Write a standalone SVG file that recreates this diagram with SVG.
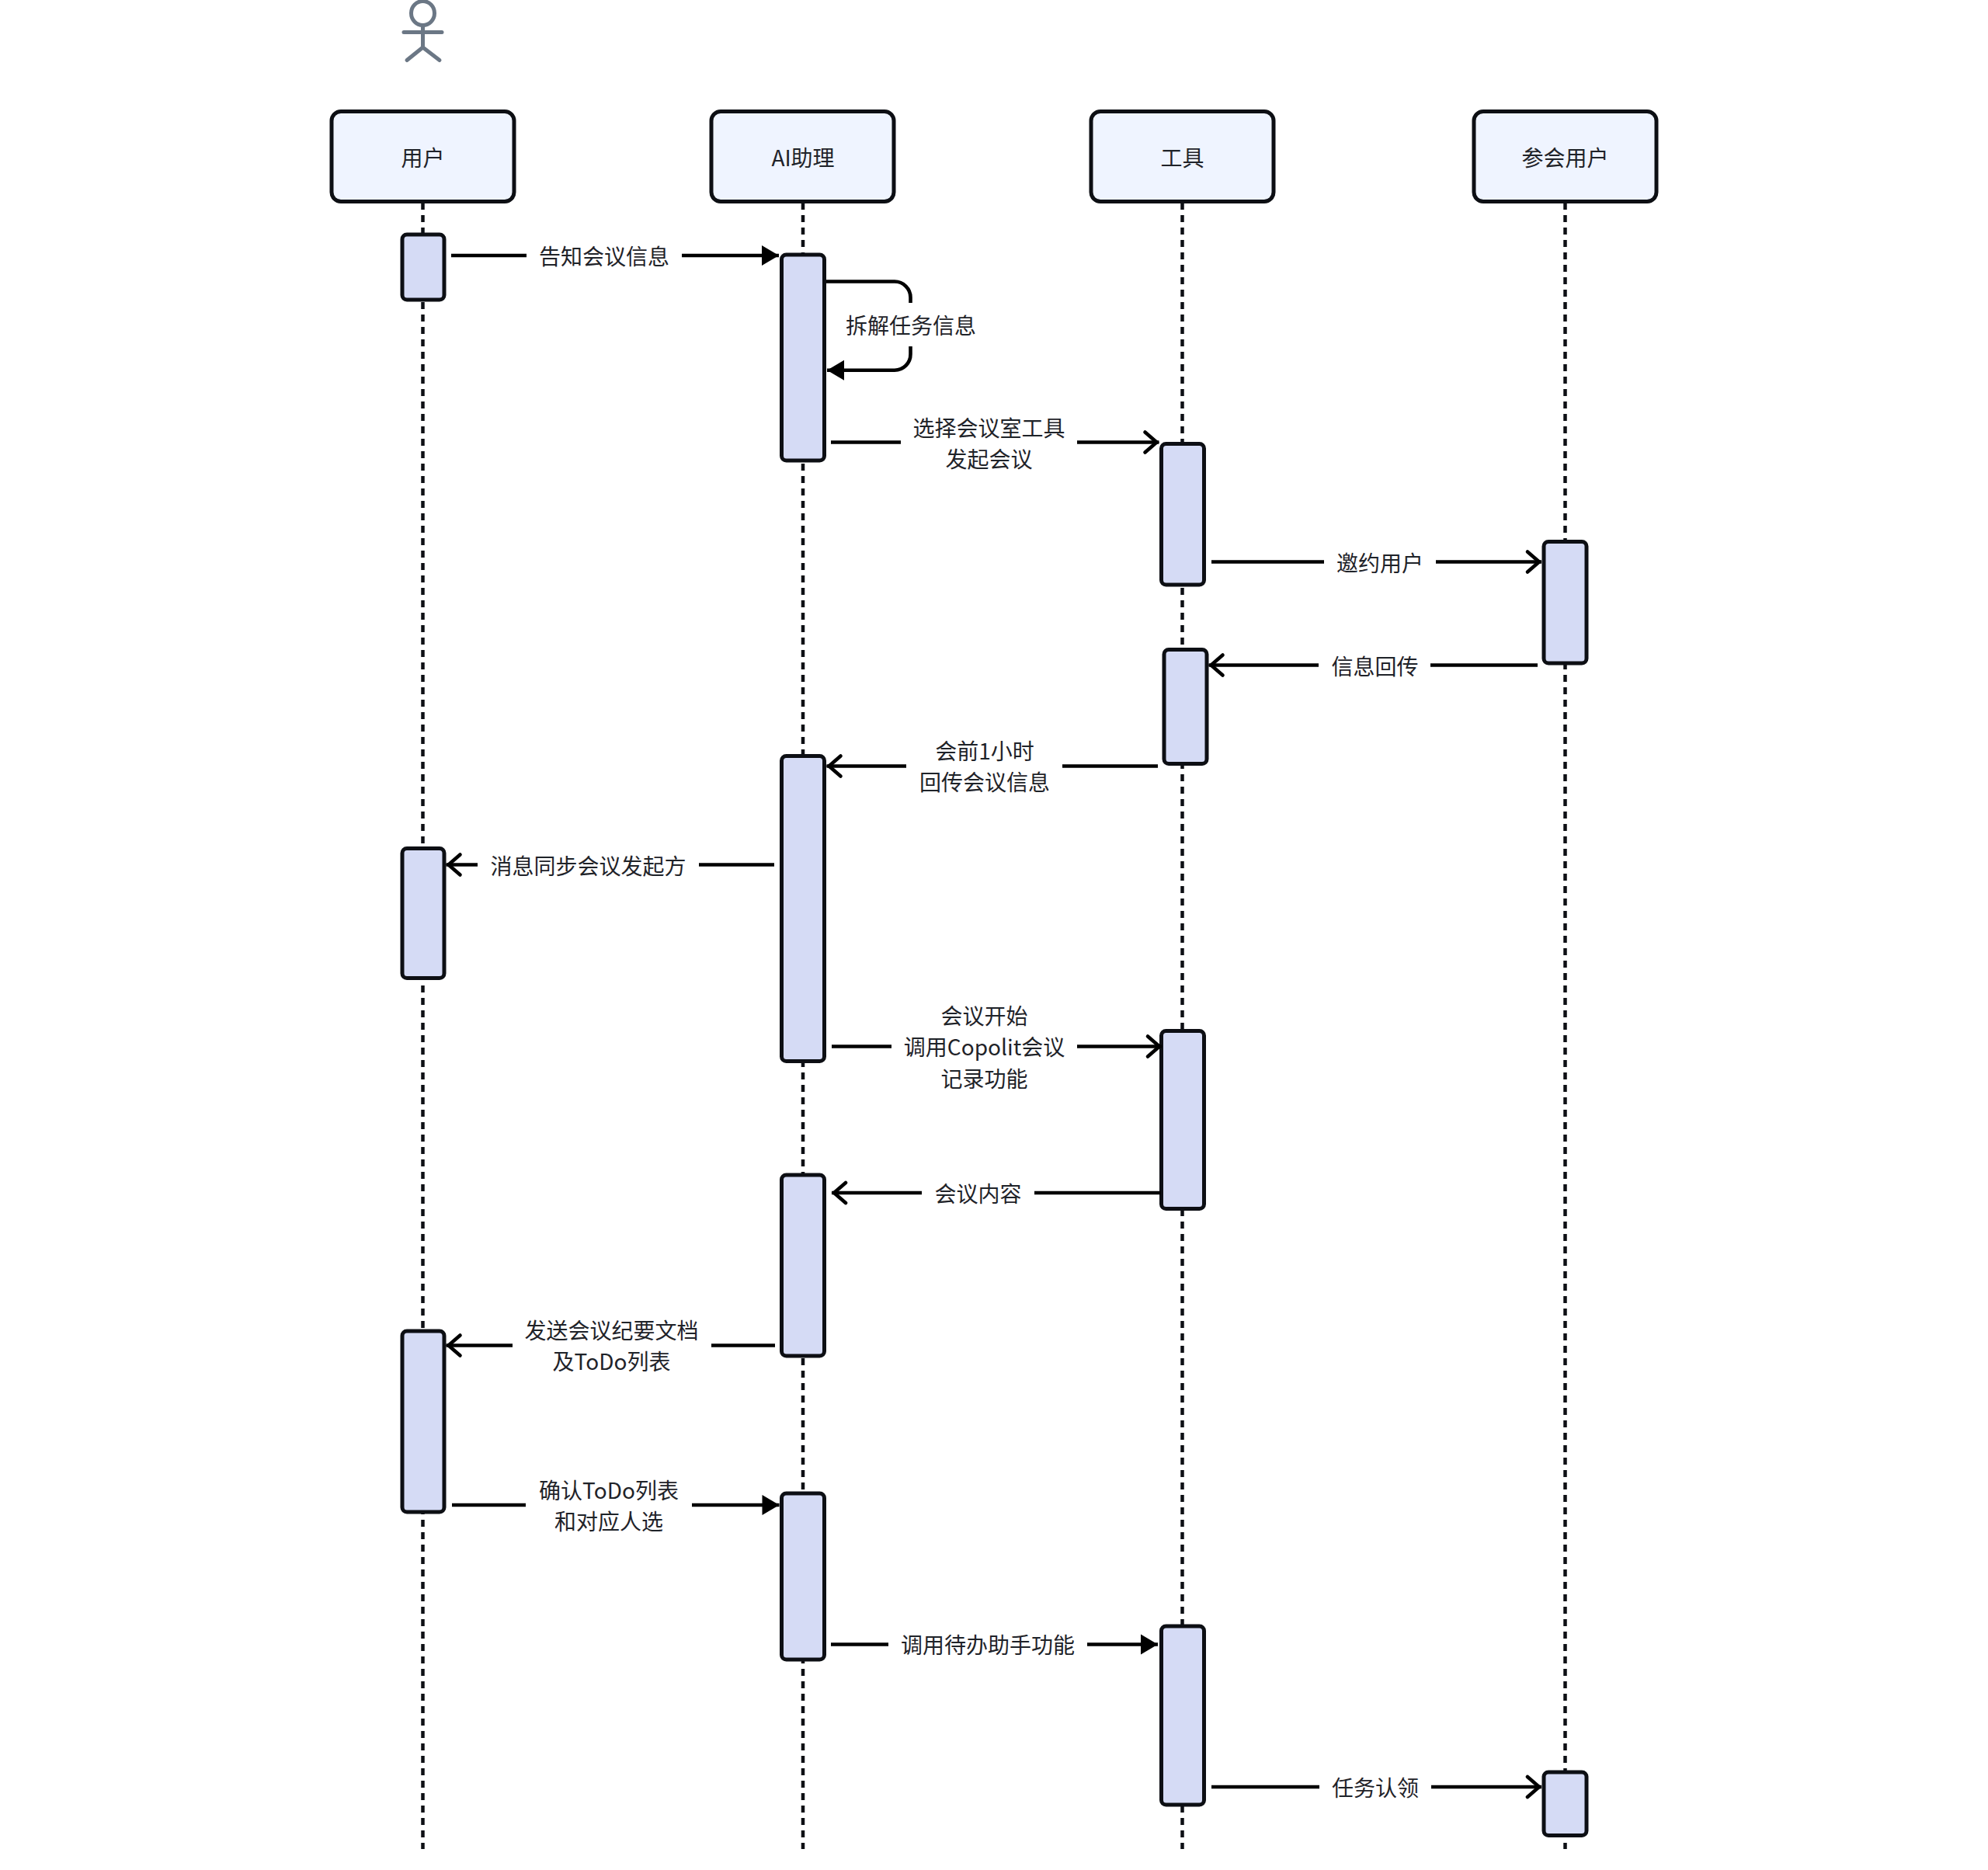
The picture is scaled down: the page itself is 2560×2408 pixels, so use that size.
<svg xmlns="http://www.w3.org/2000/svg" width="2560" height="2408" viewBox="0 0 2560 2408">
<style>
.hd{fill:#eff4ff;stroke:#0d0f14;stroke-width:5}
.ac{fill:#d5dbf5;stroke:#0d0f14;stroke-width:5}
.ll{fill:none;stroke:#0d0f14;stroke-width:4.5;stroke-dasharray:9 7}
.ln{fill:none;stroke:#000;stroke-width:4.6}
.opn{marker-end:url(#open)}
.sld{marker-end:url(#solid)}
text{font-family:"Noto Sans CJK SC","Noto Sans",sans-serif;font-size:28px;fill:#1f2329;text-anchor:middle}
.actor{fill:none;stroke:#6b7785;stroke-width:5;stroke-linecap:round;stroke-linejoin:round}
</style>
<defs>
<marker id="open" markerUnits="userSpaceOnUse" markerWidth="30" markerHeight="34" refX="23" refY="17" orient="auto" overflow="visible"><path d="M5,4 L20,17 L5,30" fill="none" stroke="#000" stroke-width="4.6" stroke-linecap="round"/></marker>
<marker id="solid" markerUnits="userSpaceOnUse" markerWidth="26" markerHeight="30" refX="24" refY="14" orient="auto" overflow="visible"><path d="M2,1 L24,14 L2,27 Z" fill="#000"/></marker>
</defs>
<rect width="2560" height="2408" fill="#fff"/>
<g id="actor" class="actor"><ellipse cx="544.5" cy="17" rx="15" ry="15.5"/><path d="M544.5,33 V61 M520,41.5 H569 M524,77.5 L544.5,61 L566,77.5"/></g>
<g id="lifelines">
<path class="ll" d="M544.5,261 V2381"/><path class="ll" d="M1034,261 V2381"/><path class="ll" d="M1522.5,261 V2381"/><path class="ll" d="M2015.5,261 V2381"/>
</g>
<g id="node-user"><rect class="hd" x="427" y="143.5" width="235" height="116" rx="12"/><text x="544.5" y="214">用户</text></g>
<g id="node-ai"><rect class="hd" x="916" y="143.5" width="235" height="116" rx="12"/><text x="1034" y="214">AI助理</text></g>
<g id="node-tool"><rect class="hd" x="1405" y="143.5" width="235" height="116" rx="12"/><text x="1522.5" y="214">工具</text></g>
<g id="node-attendee"><rect class="hd" x="1898" y="143.5" width="235" height="116" rx="12"/><text x="2015.5" y="214">参会用户</text></g>
<g id="activations">
<rect id="act-u1" class="ac" x="518" y="302" width="54" height="84" rx="6"/>
<rect id="act-a1" class="ac" x="1006.5" y="328" width="55" height="265" rx="6"/>
<rect id="act-t1" class="ac" x="1495.5" y="571.5" width="55" height="181.5" rx="6"/>
<rect id="act-p1" class="ac" x="1988" y="697.5" width="55" height="156.5" rx="6"/>
<rect id="act-t2" class="ac" x="1499" y="836.5" width="55" height="147" rx="6"/>
<rect id="act-a2" class="ac" x="1006.5" y="973.5" width="55" height="393" rx="6"/>
<rect id="act-u2" class="ac" x="518" y="1092.5" width="54" height="167" rx="6"/>
<rect id="act-t3" class="ac" x="1495.5" y="1327.5" width="55" height="229" rx="6"/>
<rect id="act-a3" class="ac" x="1006.5" y="1513" width="55" height="233" rx="6"/>
<rect id="act-u3" class="ac" x="518" y="1714" width="54" height="233" rx="6"/>
<rect id="act-a4" class="ac" x="1006.5" y="1923" width="55" height="214" rx="6"/>
<rect id="act-t4" class="ac" x="1495.5" y="2094" width="55" height="230" rx="6"/>
<rect id="act-p2" class="ac" x="1988" y="2282" width="55" height="81.5" rx="6"/>
</g>
<g id="connectors">
<path class="ln" d="M581,329 H678"/><path class="ln sld" d="M878,329 H1003"/>
<path class="ln" d="M1064,362.5 H1152 A20.5,20.5 0 0 1 1172.5,383 V390"/><path class="ln sld" d="M1172.5,446 V456 A20.5,20.5 0 0 1 1152,476.7 H1065"/>
<path class="ln" d="M1070,569.5 H1160"/><path class="ln opn" d="M1387,569.5 H1492.5"/>
<path class="ln" d="M1560,723.5 H1705"/><path class="ln opn" d="M1849,723.5 H1985"/>
<path class="ln" d="M1980,856.5 H1842"/><path class="ln opn" d="M1698,856.5 H1556.5"/>
<path class="ln" d="M1491,986.5 H1368"/><path class="ln opn" d="M1167,986.5 H1064.5"/>
<path class="ln" d="M997,1113.5 H900"/><path class="ln opn" d="M615,1113.5 H574.5"/>
<path class="ln" d="M1071,1347.5 H1148"/><path class="ln opn" d="M1387,1347.5 H1496"/>
<path class="ln" d="M1495,1536 H1332"/><path class="ln opn" d="M1187,1536 H1071"/>
<path class="ln" d="M998,1732.5 H916"/><path class="ln opn" d="M660,1732.5 H574.5"/>
<path class="ln" d="M582,1938 H677"/><path class="ln sld" d="M891,1938 H1003.5"/>
<path class="ln" d="M1070,2117.5 H1144"/><path class="ln sld" d="M1400,2117.5 H1491"/>
<path class="ln" d="M1560,2301 H1699"/><path class="ln opn" d="M1843,2301 H1985"/>
</g>
<g id="labels">
<text x="778" y="341">告知会议信息</text>
<text x="1173" y="430">拆解任务信息</text>
<text x="1273.5" y="562">选择会议室工具</text><text x="1273.5" y="602">发起会议</text>
<text x="1777" y="736">邀约用户</text>
<text x="1770.5" y="869">信息回传</text>
<text x="1268" y="978">会前1小时</text><text x="1268" y="1018">回传会议信息</text>
<text x="757.5" y="1126">消息同步会议发起方</text>
<text x="1267.5" y="1318.5">会议开始</text><text x="1267.5" y="1358.5">调用Copolit会议</text><text x="1267.5" y="1399.5">记录功能</text>
<text x="1259.5" y="1547.5">会议内容</text>
<text x="787.5" y="1724">发送会议纪要文档</text><text x="787.5" y="1764">及ToDo列表</text>
<text x="784" y="1930">确认ToDo列表</text><text x="784" y="1970">和对应人选</text>
<text x="1272" y="2129">调用待办助手功能</text>
<text x="1771" y="2312.5">任务认领</text>
</g>
</svg>
